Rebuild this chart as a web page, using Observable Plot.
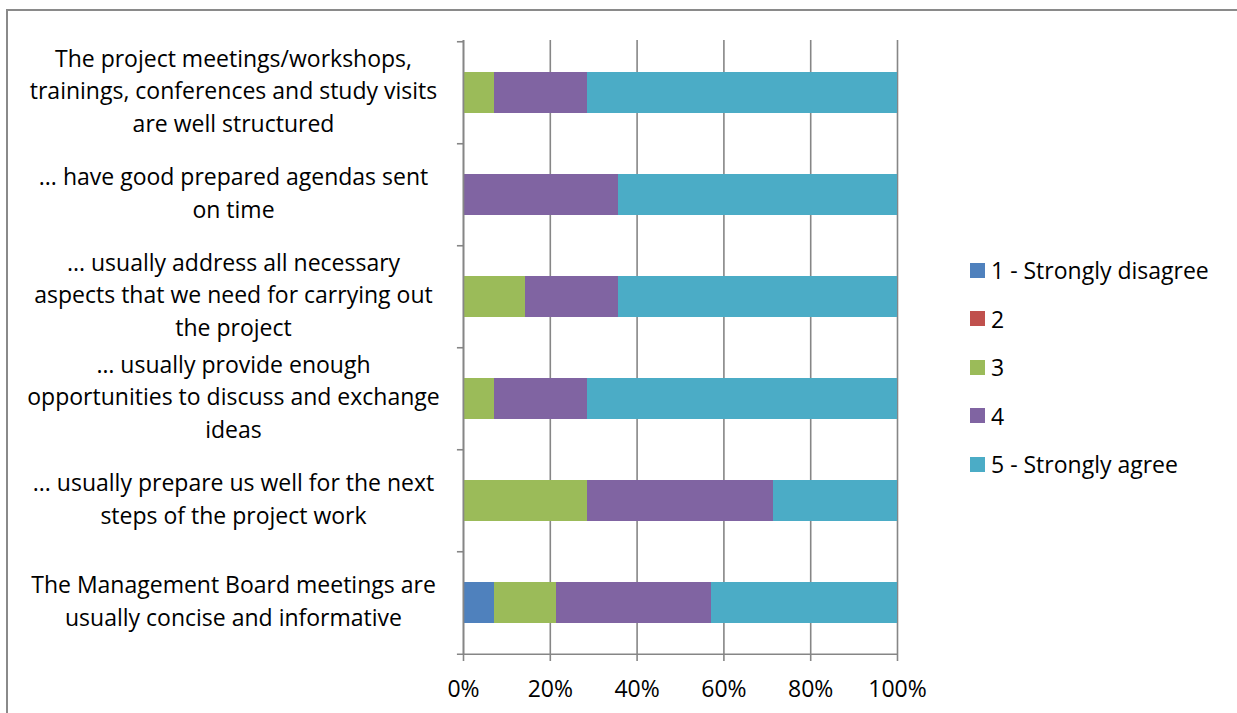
<!DOCTYPE html>
<html>
<head>
<meta charset="utf-8">
<script src="https://cdn.jsdelivr.net/npm/d3@7"></script>
<script src="https://cdn.jsdelivr.net/npm/@observablehq/plot@0.6"></script>
<style>
  html, body { margin: 0; padding: 0; background: #fff; overflow: hidden; }
  #wrap { position: relative; width: 1237px; height: 713px; font-family: "Open Sans", Lato, sans-serif; }
  #border { position: absolute; left: 6px; top: 9px; width: 1300px; height: 800px; border-left: 2px solid #8a8a8a; border-top: 2px solid #8a8a8a; }
  #chart { position: absolute; left: 0; top: 0; }
  #legend { position: absolute; left: 970px; top: 246px; font-size: 23px; color: #000; }
  .item { display: flex; align-items: center; height: 48.5px; }
  .sw { width: 15px; height: 15px; margin-right: 6px; }
</style>
</head>
<body>
<div id="wrap">
  <div id="border"></div>
  <div id="chart"></div>
  <div id="legend"></div>
</div>
<script>
const categories = [
  "The project meetings/workshops,\ntrainings, conferences and study visits\nare well structured",
  "... have good prepared agendas sent\non time",
  "... usually address all necessary\naspects that we need for carrying out\nthe project",
  "… usually provide enough\nopportunities to discuss and exchange\nideas",
  "... usually prepare us well for the next\nsteps of the project work",
  "The Management Board meetings are\nusually concise and informative"
];
const levels = ["1 - Strongly disagree", "2", "3", "4", "5 - Strongly agree"];
const colors = ["#4F81BD", "#C0504D", "#9BBB59", "#8064A2", "#4BACC6"];
// respondent counts per level, in category order
const level1 = [0, 0, 0, 0, 0, 1];
const level2 = [0, 0, 0, 0, 0, 0];
const level3 = [1, 0, 2, 1, 4, 2];
const level4 = [3, 5, 3, 3, 6, 5];
const level5 = [10, 9, 9, 10, 4, 6];
const xTicks = [0, 0.2, 0.4, 0.6, 0.8, 1];

const series = [level1, level2, level3, level4, level5];
const data = [];
categories.forEach((c, i) => {
  levels.forEach((l, j) => data.push({category: c, level: l, count: series[j][i]}));
});

const W = 1237, H = 713, mT = 40, mB = 58, mL = 463, mR = 340;
const step = (H - mT - mB) / categories.length;
const grey = "#868686";
const FS = 23;

const plot = Plot.plot({
  width: W, height: H,
  marginTop: mT, marginBottom: mB, marginLeft: mL, marginRight: mR,
  style: {fontFamily: "'Open Sans', Lato, sans-serif", fontSize: FS + "px", color: "#000", background: "transparent", overflow: "visible"},
  x: {domain: [0, 1]},
  y: {domain: categories, paddingInner: 0.6, paddingOuter: 0.3},
  color: {domain: levels, range: colors},
  marks: [
    Plot.ruleX(xTicks, {stroke: grey, strokeWidth: 1.6, strokeOpacity: 1}),
    Plot.barX(data, Plot.stackX({
      x: "count", y: "category", fill: "level", offset: "normalize", order: levels, inset: 0
    })),
    Plot.ruleY(categories, {y: d => d, dy: -step / 2, x1: -0.014, x2: 0, stroke: grey, strokeWidth: 1.6}),
    Plot.ruleY(categories.slice(-1), {y: d => d, dy: step / 2, x1: -0.014, x2: 1, stroke: grey, strokeWidth: 1.6}),
    Plot.ruleX([0], {stroke: grey, strokeWidth: 1.6}),
    Plot.axisX({
      ticks: xTicks, tickFormat: d3.format(".0%"), tickSize: 6, tickPadding: 19,
      stroke: grey, strokeWidth: 1.6, strokeOpacity: 1, fontSize: FS, fill: "#000", label: null
    }),
    Plot.axisY({
      tickSize: 0, tickPadding: 230, textAnchor: "middle", lineHeight: 1.41, dy: -4,
      fontSize: FS, fill: "#000", label: null
    })
  ]
});
document.getElementById("chart").appendChild(plot);

const legend = document.getElementById("legend");
levels.forEach((l, i) => {
  const item = document.createElement("div");
  item.className = "item";
  const sw = document.createElement("div");
  sw.className = "sw";
  sw.style.background = colors[i];
  const t = document.createElement("span");
  t.textContent = l;
  item.appendChild(sw);
  item.appendChild(t);
  legend.appendChild(item);
});
</script>
</body>
</html>
